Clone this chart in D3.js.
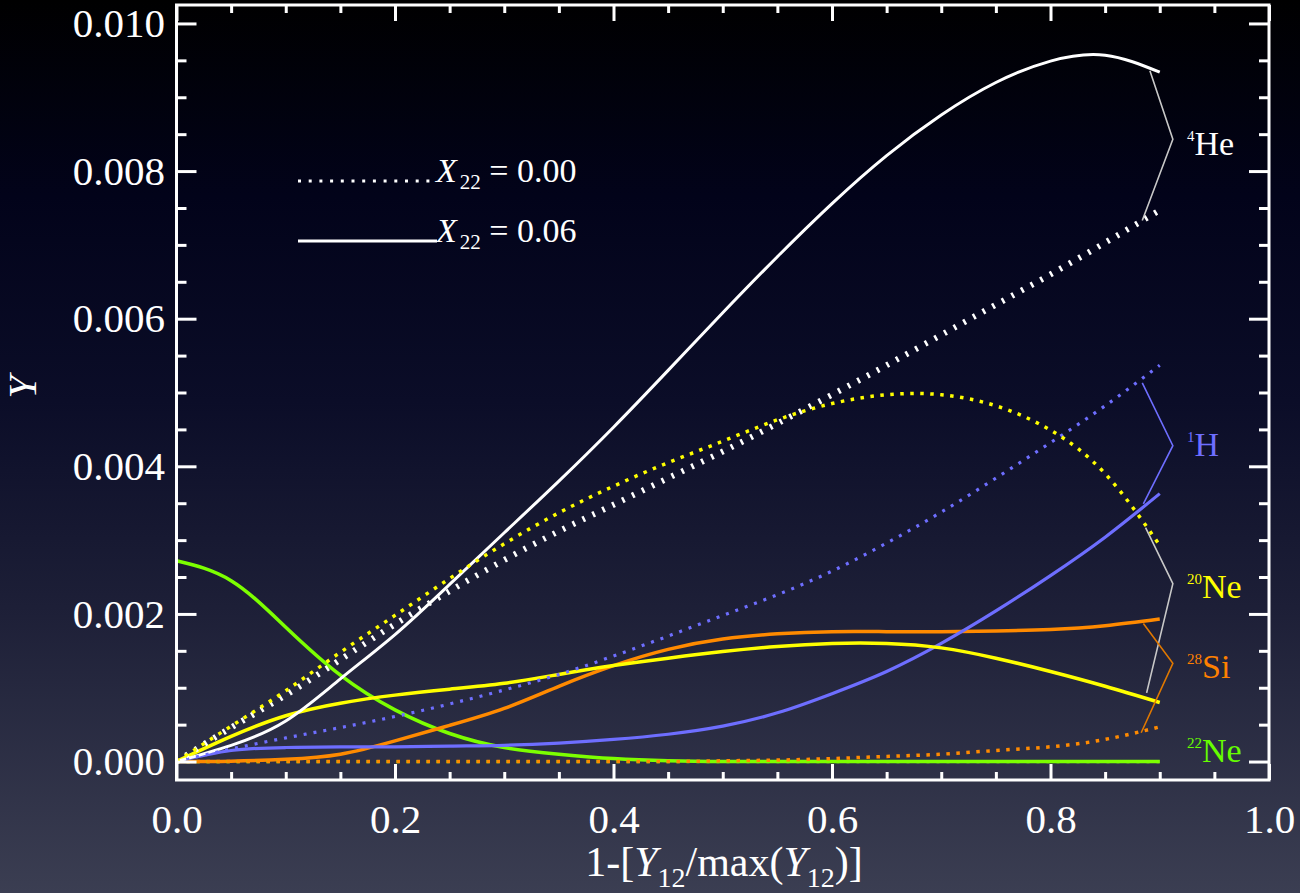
<!DOCTYPE html>
<html>
<head>
<meta charset="utf-8">
<script src="https://cdn.jsdelivr.net/npm/d3@7"></script>
<style>
  html, body { margin: 0; padding: 0; background: #000; }
  svg { display: block; }
  svg text { font-family: "Liberation Serif", "Tinos", "Times New Roman", Times, "DejaVu Serif", "Noto Serif", serif; fill: #fff; }
</style>
</head>
<body>
<svg id="chart" width="1300" height="893"></svg>
<script>
// Abscissa: 1 - [Y12 / max(Y12)]
const xGrid = [0.00, 0.05, 0.10, 0.15, 0.20, 0.25, 0.30, 0.35, 0.40, 0.45,
               0.50, 0.55, 0.60, 0.65, 0.70, 0.75, 0.80, 0.85, 0.90];

// Molar abundances Y, initial X22 = 0.06 (solid)
const he4_x06  = [0, 0.00022, 0.00055, 0.00112, 0.00172, 0.00240, 0.00310, 0.00380, 0.00453, 0.00530,
                  0.00608, 0.00684, 0.00756, 0.00821, 0.00876, 0.00920, 0.00949, 0.00957, 0.00934];
const h1_x06   = [0, 0.00015, 0.00019, 0.00020, 0.00020, 0.00021, 0.00022, 0.00025, 0.00030, 0.00037,
                  0.00048, 0.00066, 0.00092, 0.00122, 0.00160, 0.00204, 0.00252, 0.00304, 0.00363];
const ne20_x06 = [0, 0.00034, 0.00062, 0.00079, 0.00090, 0.00098, 0.00106, 0.00118, 0.00130, 0.00140,
                  0.00149, 0.00156, 0.00160, 0.00160, 0.00154, 0.00140, 0.00122, 0.00102, 0.00080];
const si28_x06 = [0, 0.000005, 0.00003, 0.00010, 0.00028, 0.00049, 0.00072, 0.00102, 0.00130, 0.00152,
                  0.00166, 0.00173, 0.00176, 0.00176, 0.00176, 0.00177, 0.00179, 0.00184, 0.00193];
const ne22_x06 = [0.00272, 0.00245, 0.00182, 0.00117, 0.00070, 0.00038, 0.00019, 0.00010, 0.00004, 0.00001,
                  0, 0, 0, 0, 0, 0, 0, 0, 0];

// Molar abundances Y, initial X22 = 0.00 (dotted)
const he4_x00  = [0, 0.00046, 0.00090, 0.00138, 0.00186, 0.00231, 0.00273, 0.00312, 0.00348, 0.00384,
                  0.00420, 0.00458, 0.00497, 0.00537, 0.00578, 0.00619, 0.00660, 0.00703, 0.00747];
const h1_x00   = [0, 0.00017, 0.00032, 0.00046, 0.00061, 0.00078, 0.00097, 0.00118, 0.00143, 0.00170,
                  0.00198, 0.00226, 0.00258, 0.00296, 0.00338, 0.00384, 0.00432, 0.00482, 0.00537];
const ne20_x00 = [0, 0.00048, 0.00096, 0.00148, 0.00198, 0.00248, 0.00295, 0.00337, 0.00373, 0.00405,
                  0.00434, 0.00463, 0.00485, 0.00497, 0.00497, 0.00482, 0.00449, 0.00390, 0.00293];
const si28_x00 = [0, 0, 0, 0, 0, 0, 0, 0, 0, 0,
                  0.00001, 0.00002, 0.00004, 0.00007, 0.00010, 0.00015, 0.00020, 0.00030, 0.00047];
const ne22_x00 = [0, 0, 0, 0, 0, 0, 0, 0, 0, 0, 0, 0, 0, 0, 0, 0, 0, 0, 0];

// Axis ticks
const xMajorTicks = [0.0, 0.2, 0.4, 0.6, 0.8, 1.0];
const yMajorTicks = [0.000, 0.002, 0.004, 0.006, 0.008, 0.010];

// Species labels and bracket vertices (data units: [x, Y])
const speciesNames = [
  { mass: "4",  elem: "He", color: "#ffffff", y: 0.00822 },
  { mass: "1",  elem: "H",  color: "#6e6eff", y: 0.00414 },
  { mass: "20", elem: "Ne", color: "#ffff00", y: 0.00222 },
  { mass: "28", elem: "Si", color: "#ff8000", y: 0.00113 },
  { mass: "22", elem: "Ne", color: "#66ff00", y: 0.0 }
];
const he4Bracket  = [[0.891, 0.00936], [0.912, 0.00843], [0.884, 0.00733]];
const h1Bracket   = [[0.884, 0.00513], [0.912, 0.00428], [0.885, 0.00349]];
const ne20Bracket = [[0.887, 0.00317], [0.912, 0.00241], [0.888, 0.00093]];
const si28Bracket = [[0.885, 0.00187], [0.912, 0.00133], [0.883, 0.00039]];

// ---------------------------------------------------------------
const svg = d3.select("#chart");
const W = 1300, H = 893;
const frame = { left: 176.5, right: 1269, top: 5, bottom: 780 };
const serif = '"Liberation Serif", "Tinos", "Times New Roman", Times, "DejaVu Serif", "Noto Serif", serif';

const x = d3.scaleLinear().domain([0, 1]).range([frame.left, frame.right]);
const y = d3.scaleLinear().domain([-0.00025, 0.01025]).range([frame.bottom, frame.top]);

// Background gradient
const defs = svg.append("defs");
const grad = defs.append("linearGradient").attr("id", "bg")
  .attr("x1", 0).attr("y1", 0).attr("x2", 0).attr("y2", 1);
[["0%", "#000000"], ["22%", "#02031a"], ["45%", "#0b0d28"], ["68%", "#1d1f37"], ["100%", "#3b3e52"]]
  .forEach(([o, c]) => grad.append("stop").attr("offset", o).attr("stop-color", c));
svg.append("rect").attr("width", W).attr("height", H).attr("fill", "url(#bg)");

const clip = defs.append("clipPath").attr("id", "plotclip");
clip.append("rect").attr("x", frame.left).attr("y", frame.top)
  .attr("width", frame.right - frame.left).attr("height", frame.bottom - frame.top);

const line = d3.line()
  .x((d, i) => x(xGrid[i]))
  .y(d => y(d))
  .curve(d3.curveNatural);

const curves = svg.append("g").attr("clip-path", "url(#plotclip)");

// Solid curves (X22 = 0.06)
const solid = [
  { v: ne22_x06, color: "#7cff00", w: 3.5 },
  { v: si28_x06, color: "#ff8a00", w: 3.5 },
  { v: h1_x06,   color: "#6e6eff", w: 3.2 },
  { v: ne20_x06, color: "#ffff00", w: 3.5 },
  { v: he4_x06,  color: "#ffffff", w: 3.0 }
];
// Dotted curves (X22 = 0.00)
const dotted = [
  { v: ne22_x00, color: "#7cff00", w: 3.2, dash: "3,7" },
  { v: si28_x00, color: "#ff8a00", w: 3.5, dash: "3.5,6.5" },
  { v: h1_x00,   color: "#6e6eff", w: 3.2, dash: "3,7" },
  { v: he4_x00,  color: "#ffffff", w: 6.0, dash: "2.5,8.5" },
  { v: ne20_x00, color: "#ffff00", w: 3.5, dash: "3.5,6.5" }
];

solid.forEach(s => curves.append("path").attr("d", line(s.v))
  .attr("fill", "none").attr("stroke", s.color).attr("stroke-width", s.w)
  .attr("stroke-linejoin", "round"));
dotted.forEach(s => curves.append("path").attr("d", line(s.v))
  .attr("fill", "none").attr("stroke", s.color).attr("stroke-width", s.w)
  .attr("stroke-dasharray", s.dash));

// Brackets grouping each species pair
const bracketLine = d3.line().x(d => x(d[0])).y(d => y(d[1]));
[[he4Bracket, "#c8c8c8"], [h1Bracket, "#6e6eff"], [ne20Bracket, "#c8c8c8"], [si28Bracket, "#e07800"]]
  .forEach(([pts, c]) => svg.append("path").attr("d", bracketLine(pts))
    .attr("fill", "none").attr("stroke", c).attr("stroke-width", 1.6));

// Species labels
const labelG = svg.append("g");
speciesNames.forEach(s => {
  const t = labelG.append("text").attr("x", x(0.925)).attr("y", y(s.y))
    .attr("font-family", serif).style("fill", s.color);
  t.append("tspan").attr("font-size", 15).attr("dy", -14).text(s.mass);
  t.append("tspan").attr("font-size", 34).attr("dy", 14).text(s.elem);
});

// Axes: ticks on all four sides, pointing inward
const xMinor = d3.range(0, 1.0001, 0.05).filter(v => Math.abs(v * 5 - Math.round(v * 5)) > 1e-6);
const yMinor = d3.range(0, 0.01001, 0.0005).filter(v => Math.abs(v * 500 - Math.round(v * 500)) > 1e-6);

function styleAxis(g) {
  g.attr("font-family", serif);
  g.select(".domain").remove();
  g.selectAll(".tick line").attr("stroke", "#fff").attr("stroke-width", 3);
}

svg.append("g").attr("transform", `translate(0,${frame.bottom})`)
  .call(d3.axisBottom(x).tickValues(xMajorTicks).tickSize(-16).tickPadding(24)
    .tickFormat(d3.format(".1f")))
  .call(styleAxis)
  .call(g => g.selectAll("text").attr("font-size", 41).attr("fill", "#fff"));
svg.append("g").attr("transform", `translate(0,${frame.bottom})`)
  .call(d3.axisBottom(x).tickValues(xMinor).tickSize(-8).tickFormat(""))
  .call(styleAxis);
svg.append("g").attr("transform", `translate(0,${frame.top})`)
  .call(d3.axisTop(x).tickValues(xMajorTicks).tickSize(-16).tickFormat(""))
  .call(styleAxis);
svg.append("g").attr("transform", `translate(0,${frame.top})`)
  .call(d3.axisTop(x).tickValues(xMinor).tickSize(-8).tickFormat(""))
  .call(styleAxis);

svg.append("g").attr("transform", `translate(${frame.left},0)`)
  .call(d3.axisLeft(y).tickValues(yMajorTicks).tickSize(-20).tickPadding(11.5)
    .tickFormat(d3.format(".3f")))
  .call(styleAxis)
  .call(g => g.selectAll("text").attr("font-size", 41).attr("fill", "#fff"));
svg.append("g").attr("transform", `translate(${frame.left},0)`)
  .call(d3.axisLeft(y).tickValues(yMinor).tickSize(-10).tickFormat(""))
  .call(styleAxis);
svg.append("g").attr("transform", `translate(${frame.right},0)`)
  .call(d3.axisRight(y).tickValues(yMajorTicks).tickSize(-20).tickFormat(""))
  .call(styleAxis);
svg.append("g").attr("transform", `translate(${frame.right},0)`)
  .call(d3.axisRight(y).tickValues(yMinor).tickSize(-10).tickFormat(""))
  .call(styleAxis);

// Plot frame
svg.append("rect").attr("x", frame.left).attr("y", frame.top)
  .attr("width", frame.right - frame.left).attr("height", frame.bottom - frame.top)
  .attr("fill", "none").attr("stroke", "#fff").attr("stroke-width", 3);

// Axis titles
const xt = svg.append("text").attr("x", 724).attr("y", 876)
  .attr("font-family", serif).attr("text-anchor", "middle").attr("font-size", 42);
xt.append("tspan").text("1-[");
xt.append("tspan").attr("font-style", "italic").text("Y");
xt.append("tspan").attr("font-size", 28).attr("dy", 11).text("12");
xt.append("tspan").attr("dy", -11).text("/max(");
xt.append("tspan").attr("font-style", "italic").text("Y");
xt.append("tspan").attr("font-size", 28).attr("dy", 11).text("12");
xt.append("tspan").attr("dy", -11).text(")]");

svg.append("text").attr("transform", "translate(36,387) rotate(-90)")
  .attr("font-family", serif).attr("text-anchor", "middle")
  .attr("font-size", 41).attr("font-style", "italic").text("Y");

// Legend
const legend = [
  { label: "0.00", dash: "3,7.7", x2: 432, y: 182 },
  { label: "0.06", dash: null,    x2: 437, y: 242 }
];
legend.forEach(l => {
  const ln = svg.append("line").attr("x1", 298).attr("x2", l.x2)
    .attr("y1", l.y - 1).attr("y2", l.y - 1)
    .attr("stroke", "#fff").attr("stroke-width", 3);
  if (l.dash) ln.attr("stroke-dasharray", l.dash);
  const t = svg.append("text").attr("x", 436).attr("y", l.y)
    .attr("font-family", serif).attr("font-size", 34);
  t.append("tspan").attr("font-style", "italic").text("X");
  t.append("tspan").attr("font-size", 21).attr("dx", 3).attr("dy", 7).text("22");
  t.append("tspan").attr("dy", -7).text(" = " + l.label);
});
</script>
</body>
</html>
